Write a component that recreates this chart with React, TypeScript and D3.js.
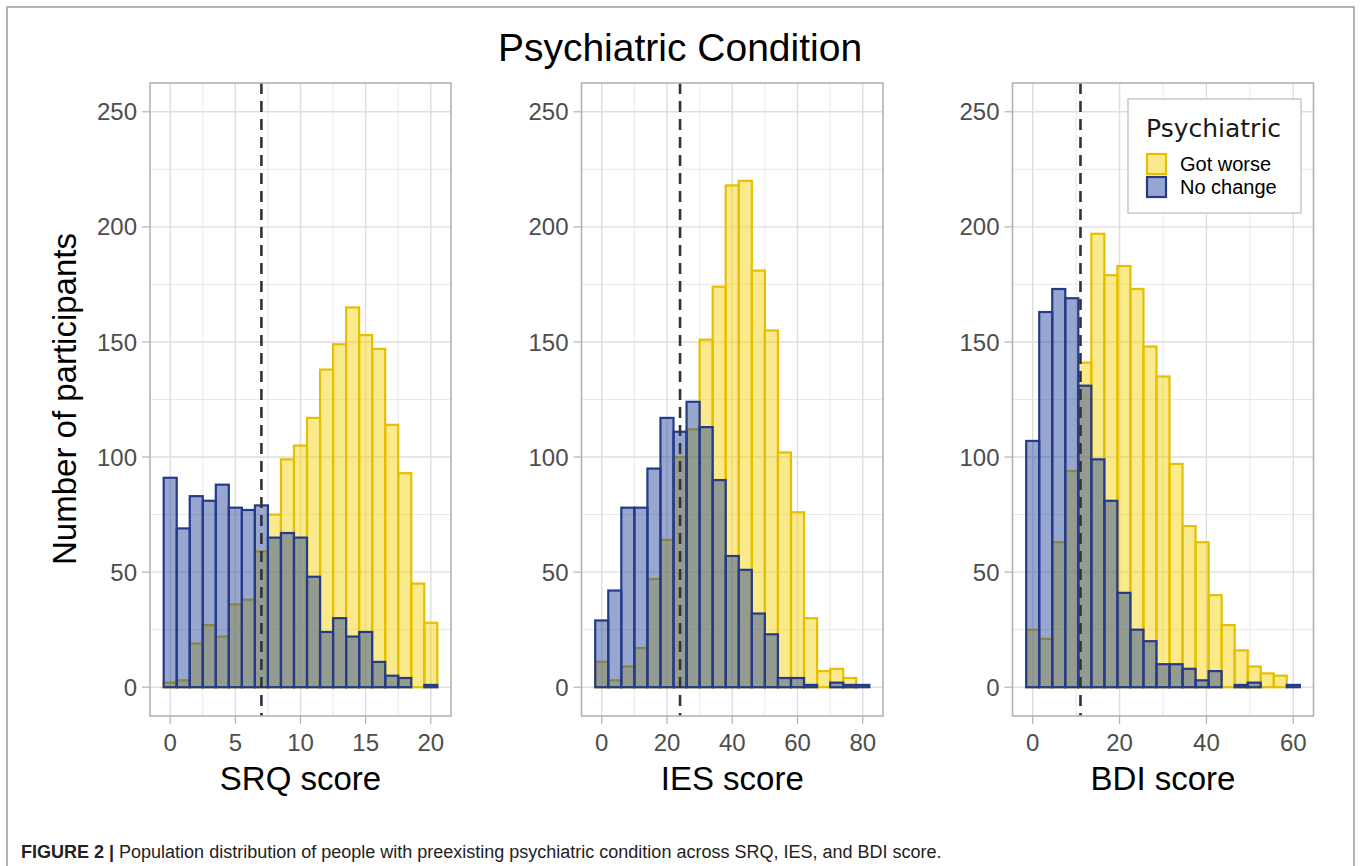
import React from 'react';
import * as d3 from 'd3';

// bin centres (categories) for each score
const srqScores = [0, 1, 2, 3, 4, 5, 6, 7, 8, 9, 10, 11, 12, 13, 14, 15, 16, 17, 18, 19, 20];
const iesScores = [0, 4, 8, 12, 16, 20, 24, 28, 32, 36, 40, 44, 48, 52, 56, 60, 64, 68, 72, 76, 80];
const bdiScores = [0, 3, 6, 9, 12, 15, 18, 21, 24, 27, 30, 33, 36, 39, 42, 45, 48, 51, 54, 57, 60];

// counts
const srqWorse = [2, 3, 19, 27, 22, 36, 38, 59, 75, 99, 105, 117, 138, 149, 165, 153, 147, 114, 93, 45, 28];
const srqNoChange = [91, 69, 83, 81, 88, 78, 77, 79, 65, 67, 65, 48, 24, 30, 22, 24, 11, 5, 4, 0, 1];
const iesWorse = [11, 3, 9, 17, 47, 64, 100, 112, 151, 174, 218, 220, 181, 155, 102, 76, 30, 7, 8, 4, 0];
const iesNoChange = [29, 42, 78, 78, 95, 117, 111, 124, 113, 90, 57, 51, 32, 23, 4, 4, 1, 0, 2, 1, 1];
const bdiWorse = [25, 21, 63, 94, 141, 197, 179, 183, 173, 148, 135, 97, 70, 63, 40, 27, 16, 9, 6, 5, 0];
const bdiNoChange = [107, 163, 173, 169, 131, 99, 81, 41, 25, 20, 10, 10, 8, 3, 7, 0, 1, 2, 0, 0, 1];

const srqTicks = [0, 5, 10, 15, 20];
const iesTicks = [0, 20, 40, 60, 80];
const bdiTicks = [0, 20, 40, 60];
const yTicks = [0, 50, 100, 150, 200, 250];
const yMinor = [25, 75, 125, 175, 225];

const cutoffs = [7, 24, 11];
const axisTitles = ['SRQ score', 'IES score', 'BDI score'];
const groups = ['Got worse', 'No change'];

const fillColor = ['rgba(245, 208, 0, 0.45)', 'rgba(25, 60, 150, 0.45)'];
const strokeColor = ['#E4C000', '#243B8A'];

const font = '"Liberation Sans", Arial, Helvetica, sans-serif';

const W = 1363, H = 866;
const top = 83, bottom = 716;
const panelX = [[150, 451], [581.5, 883], [1012.5, 1313.5]];

const y = d3.scaleLinear().domain([-12.5, 262.5]).range([bottom, top]);

const panels = [
  { scores: srqScores, worse: srqWorse, none: srqNoChange, ticks: srqTicks, bw: 1 },
  { scores: iesScores, worse: iesWorse, none: iesNoChange, ticks: iesTicks, bw: 4 },
  { scores: bdiScores, worse: bdiWorse, none: bdiNoChange, ticks: bdiTicks, bw: 3 },
];

const Panel = ({ p, i }: { p: any; i: number }) => {
  const lo = d3.min(p.scores as number[])! - p.bw / 2;
  const hi = d3.max(p.scores as number[])! + p.bw / 2;
  const pad = (hi - lo) * 0.05;
  const [x0, x1] = panelX[i];
  const x = d3.scaleLinear().domain([lo - pad, hi + pad]).range([x0, x1]);
  const step = p.ticks[1] - p.ticks[0];
  const xMinor = d3.range(p.ticks[0] - step / 2, hi + pad, step).filter((v: number) => v > lo - pad);
  const bars = (vals: number[], g: number) =>
    vals.map((v, k) => (
      <rect key={g + '-' + k}
        x={x(p.scores[k] - p.bw / 2)} y={y(v)}
        width={x(p.scores[k] + p.bw / 2) - x(p.scores[k] - p.bw / 2)}
        height={y(0) - y(v)}
        fill={fillColor[g]} stroke={strokeColor[g]} strokeWidth={2.2} />
    ));
  return (
    <g>
      <rect x={x0} y={top} width={x1 - x0} height={bottom - top} fill="#fff" />
      {yMinor.map(v => <line key={'ym' + v} x1={x0} x2={x1} y1={y(v)} y2={y(v)} stroke="#E3E3E3" strokeWidth={0.8} />)}
      {xMinor.map((v: number) => <line key={'xm' + v} x1={x(v)} x2={x(v)} y1={top} y2={bottom} stroke="#E3E3E3" strokeWidth={0.8} />)}
      {yTicks.map(v => <line key={'yg' + v} x1={x0} x2={x1} y1={y(v)} y2={y(v)} stroke="#DEDEDE" strokeWidth={1.4} />)}
      {p.ticks.map((v: number) => <line key={'xg' + v} x1={x(v)} x2={x(v)} y1={top} y2={bottom} stroke="#DEDEDE" strokeWidth={1.4} />)}
      {bars(p.worse, 0)}
      {bars(p.none, 1)}
      <line x1={x(cutoffs[i])} x2={x(cutoffs[i])} y1={top} y2={bottom} stroke="#333" strokeWidth={2.6} strokeDasharray="11,7" />
      <rect x={x0} y={top} width={x1 - x0} height={bottom - top} fill="none" stroke="#B3B3B3" strokeWidth={1.6} />
      {yTicks.map(v => (
        <g key={'yt' + v}>
          <line x1={x0 - 8} x2={x0} y1={y(v)} y2={y(v)} stroke="#B3B3B3" strokeWidth={1.2} />
          <text x={x0 - 13} y={y(v) + 8.6} textAnchor="end" fontSize={24} fill="#4D4D4D" fontFamily={font}>{v}</text>
        </g>
      ))}
      {p.ticks.map((v: number) => (
        <g key={'xt' + v}>
          <line x1={x(v)} x2={x(v)} y1={bottom} y2={bottom + 8} stroke="#B3B3B3" strokeWidth={1.2} />
          <text x={x(v)} y={751} textAnchor="middle" fontSize={24} fill="#4D4D4D" fontFamily={font}>{v}</text>
        </g>
      ))}
      <text x={(x0 + x1) / 2} y={790} textAnchor="middle" fontSize={33} fill="#000" fontFamily={font}>{axisTitles[i]}</text>
    </g>
  );
};

const App = () => {
  return (
    <svg width={W} height={H} style={{ position: 'absolute', left: 0, top: 0, background: '#fff' }}>
      <rect x={0} y={0} width={W} height={H} fill="#fff" />
      <path d={`M7,${H} V7 H1354 V${H}`} fill="none" stroke="#9A9A9A" strokeWidth={1.5} />
      <text x={680} y={61} textAnchor="middle" fontSize={39} fontFamily={font} fill="#000">Psychiatric Condition</text>
      <text transform="translate(76,399) rotate(-90)" textAnchor="middle" fontSize={33} fontFamily={font} fill="#000">Number of participants</text>
      {panels.map((p, i) => <Panel key={i} p={p} i={i} />)}
      <g>
        <rect x={1128} y={99} width={173} height={114} fill="#fff" stroke="#C8C8C8" strokeWidth={1.5} />
        <text x={1146} y={137} fontSize={25} fontFamily='"DejaVu Sans", sans-serif' fill="#1a1a1a">Psychiatric</text>
        {groups.map((g, k) => (
          <g key={g}>
            <rect x={1147} y={154 + k * 23} width={19} height={20} fill={fillColor[k]} stroke={strokeColor[k]} strokeWidth={2.2} />
            <text x={1180} y={171 + k * 23} fontSize={20} fontFamily={font} fill="#000">{g}</text>
          </g>
        ))}
      </g>
      <text x={21} y={858} fontSize={18} fontFamily={font} fill="#222">
        <tspan fontWeight="bold">FIGURE 2 |</tspan>
        <tspan> Population distribution of people with preexisting psychiatric condition across SRQ, IES, and BDI score.</tspan>
      </text>
    </svg>
  );
};

export default App;
